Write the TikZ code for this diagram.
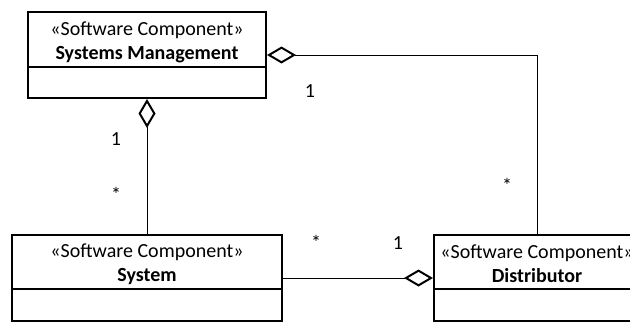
\documentclass[tikz,border=0pt]{standalone}
\usepackage{fontspec}
\setmainfont{Carlito}
\usetikzlibrary{calc}
\usetikzlibrary{arrows.meta}

\tikzset{
    classbox/.style={draw, line width=1pt, minimum height=43pt, inner sep=0pt},
    classname/.style={align=center, inner sep=0pt},
    mult/.style={anchor=base, inner sep=0pt},
    agg/.style={line width=.5pt, {Diamond[open, length=14.5pt, width=8.5pt, line width=1pt]}-},
}

\begin{document}
\begin{tikzpicture}[x=0.5pt, y=-0.5pt, font=\fontsize{10}{12}\selectfont]
    \useasboundingbox (0,0) rectangle (630,322);
    \clip (0,0) rectangle (630,322);

    % the three components
    \node[classbox, minimum width=119pt] (sm) at (147,55) {};
    \node[classbox, minimum width=135pt] (sys) at (147,278) {};
    \node[classbox, minimum width=103pt] (dist) at (537,278) {};

    \node[classname] (smname) at (147,42) {«Software Component»\\ \textbf{Systems Management}};
    \node[classname] (sysname) at (147,264) {«Software Component»\\ \textbf{System}};
    \node[classname] (distname) at (537,264) {«Software Component»\\ \textbf{Distributor}};

    % compartment lines
    \draw[line width=1pt] ($(sm.south west)+(0,-32)$) -- ($(sm.south east)+(0,-32)$);
    \draw[line width=1pt] ($(sys.south west)+(0,-33)$) -- ($(sys.south east)+(0,-33)$);
    \draw[line width=1pt] ($(dist.south west)+(0,-33)$) -- ($(dist.south east)+(0,-33)$);

    % aggregations
    \draw[agg] (sm.east) -| (dist.north);
    \draw[agg] (sm.south) -- (sys.north);
    \draw[agg] (dist.west) -- (sys.east);

    % multiplicities
    \node[mult] (m1) at (310,97) {1};
    \node[mult] (m2) at (507,192) {*};
    \node[mult] (m3) at (116,145) {1};
    \node[mult] (m4) at (116,201) {*};
    \node[mult] (m5) at (316,249) {*};
    \node[mult] (m6) at (398,249) {1};
\end{tikzpicture}
\end{document}
